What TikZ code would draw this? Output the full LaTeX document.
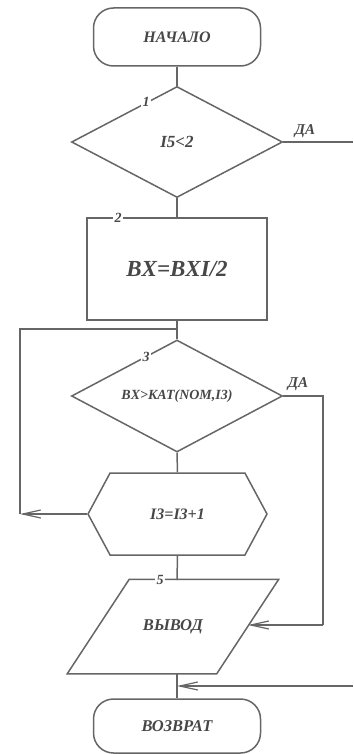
\documentclass[tikz,border=0pt]{standalone}
\usepackage{fontspec}
\setmainfont{Liberation Serif}
\usetikzlibrary{shapes.geometric,shapes.symbols,arrows.meta,calc}
\newcommand{\fs}[1]{\fontsize{#1}{#1}\selectfont\bfseries\itshape}
\begin{document}
\begin{tikzpicture}[x=1pt,y=-1pt,
  line width=1.5pt,
  every node/.style={text=black!72},
  box/.style={draw=black!60, line width=1.5pt, inner sep=0pt},
  term/.style={box, rectangle, rounded corners=20pt, minimum width=167pt},
  dec/.style={box, diamond, minimum width=211pt, minimum height=111pt},
  num/.style={fill=white, inner sep=1.5pt, font=\fs{14}},
  flow/.style={draw=black!60, line width=1.5pt},
  arr/.style={flow, -{Straight Barb[length=18pt,width=8pt,line width=1.2pt]}}
]
\useasboundingbox (0,0) rectangle (353,754);

\node[term, minimum height=58pt, font=\fs{16}] (start) at (177,37) {НАЧАЛО};
\node[dec, label={[font=\fs{17}]center:I5<2}] (d1) at (177,142) {};
\node[box, rectangle, minimum width=180pt, minimum height=102pt, font=\fs{23}] (p2) at (177,269) {BX=BXI/2};
\node[dec, minimum height=112pt, label={[font=\fs{14}]center:BX>KAT(NOM,I3)}] (d3) at (177,396) {};
\node[box, signal, signal to=west and east, signal pointer angle=123.4,
      minimum width=179pt, minimum height=82pt, font=\fs{16}] (h4) at (177.5,514) {I3=I3+1};
\node[inner sep=0pt, minimum width=148pt, minimum height=93pt, font=\fs{16.5}] (io5) at (173,626.5) {ВЫВОД};
\draw[box] ($(io5.north west)+(31,0)$) -- ($(io5.north east)+(31,0)$)
  -- ($(io5.south east)+(-31,0)$) -- ($(io5.south west)+(-31,0)$) -- cycle;
\node[term, minimum height=54pt, font=\fs{16.5}] (stop) at (177,726) {ВОЗВРАТ};

% number labels on outlines
\node[num] (n1) at (146,102) {1};
\node[num] (n2) at (118,218) {2};
\node[num] (n3) at (146,357) {3};
\node[num] (n5) at (160,580) {5};

% yes labels
\node[font=\fs{15}] (y1) at (305,131) {ДА};
\node[font=\fs{15}] (y3) at (298,384) {ДА};

% coordinates
\coordinate (e1) at (353,142);
\coordinate (j3) at (177,329);
\coordinate (lc) at (20,514);
\coordinate (lt) at (20,329);
\coordinate (rc) at (323,396);
\coordinate (rb) at (323,625);
\coordinate (in5) at (248,625);
\coordinate (j6) at (177,686);
\coordinate (e6) at (353,686);
\coordinate (t5) at (177,580);
\coordinate (b5) at (177,673);

% connectors
\draw[flow] (start.south) -- (d1.north);
\draw[flow] (d1.east) -- (e1);
\draw[flow] (d1.south) -- (p2.north);
\draw[flow] (p2.south) -- (d3.north);
\draw[arr] (h4.west) -- (lc);
\draw[flow] (lc) -- (lt) -- (j3);
\draw[flow] (d3.south) -- (h4.north);
\draw[flow] (d3.east) -- (rc) -- (rb);
\draw[arr] (rb) -- (in5);
\draw[flow] (h4.south) -- (t5);
\draw[flow] (b5) -- (stop.north);
\draw[arr] (e6) -- (j6);
\end{tikzpicture}
\end{document}
